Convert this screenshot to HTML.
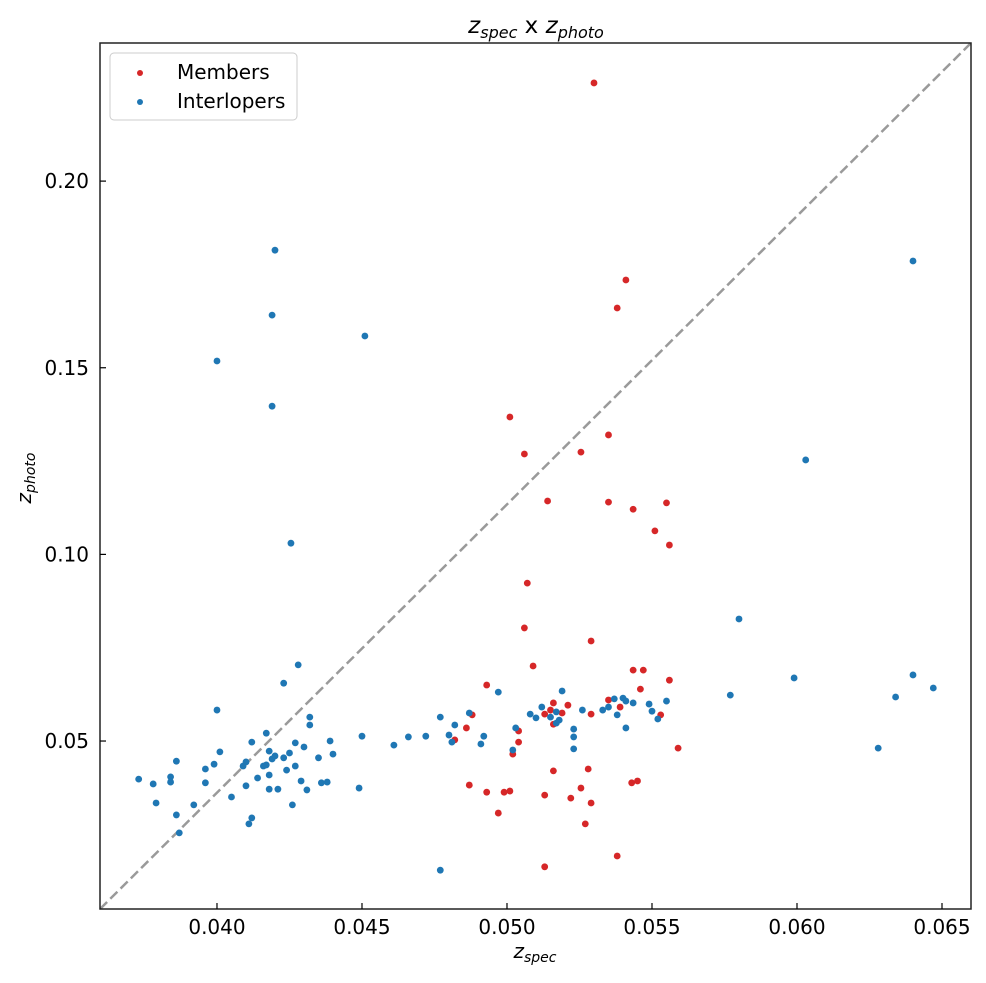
<!DOCTYPE html>
<html><head><meta charset="utf-8"><style>
body{margin:0;background:#fff;}
svg{display:block;font-family:"DejaVu Sans","Liberation Sans",sans-serif;}
</style></head><body>
<svg id="chart" width="986" height="983" viewBox="0 0 986 983" xmlns="http://www.w3.org/2000/svg">
<rect x="0" y="0" width="986" height="983" fill="#fff"/>
<g id="marks"></g>
<g id="axes"></g>
<text x="536" y="33" text-anchor="middle" font-size="23"><tspan font-style="italic">z</tspan><tspan font-style="italic" font-size="16" dy="5">spec</tspan><tspan dy="-5"> x </tspan><tspan font-style="italic">z</tspan><tspan font-style="italic" font-size="16" dy="5">photo</tspan></text>
<text x="535" y="958" text-anchor="middle" font-size="20"><tspan font-style="italic">z</tspan><tspan font-style="italic" font-size="14" dy="4">spec</tspan></text>
<text transform="translate(31,478) rotate(-90)" text-anchor="middle" font-size="20"><tspan font-style="italic">z</tspan><tspan font-style="italic" font-size="14" dy="4">photo</tspan></text>
<g>
<rect x="110" y="53" width="187" height="67" rx="4" fill="#fff" fill-opacity="0.8" stroke="#ccc" stroke-width="1"/>
<circle cx="140" cy="73" r="3" fill="#d62728"/>
<text x="177" y="79" font-size="20">Members</text>
<circle cx="140" cy="102" r="3" fill="#1f77b4"/>
<text x="177" y="108" font-size="20">Interlopers</text>
</g>
</svg>
<script>
const xTicks=[0.040,0.045,0.050,0.055,0.060,0.065];
const xTickLabels=["0.040","0.045","0.050","0.055","0.060","0.065"];
const yTicks=[0.05,0.10,0.15,0.20];
const yTickLabels=["0.05","0.10","0.15","0.20"];
const memberX=[0.0530,0.0541,0.0538,0.0501,0.0535,0.0506,0.05255,0.0514,0.0535,0.05435,0.0555,0.0551,0.0556,0.0507,0.0506,0.0509,0.0529,0.05435,0.0547,0.0546,0.0556,0.0493,0.0535,0.0539,0.0516,0.0521,0.0513,0.0515,0.0519,0.0516,0.0529,0.0553,0.0488,0.0486,0.0482,0.0504,0.0504,0.0502,0.0559,0.0487,0.0493,0.0499,0.0501,0.0497,0.0513,0.0516,0.0522,0.05255,0.0528,0.0529,0.0543,0.0545,0.0527,0.0513,0.0538];
const memberY=[0.2263,0.1735,0.1660,0.1368,0.1320,0.1269,0.1274,0.1143,0.1140,0.1121,0.1138,0.1063,0.1025,0.0923,0.0803,0.0701,0.0768,0.0690,0.0690,0.0639,0.0663,0.0650,0.0610,0.0591,0.0602,0.0596,0.0572,0.0583,0.0575,0.0545,0.0572,0.0570,0.0570,0.0535,0.0503,0.0527,0.0497,0.0465,0.0481,0.0382,0.0363,0.0363,0.0366,0.0307,0.0355,0.0420,0.0347,0.0374,0.0425,0.0334,0.0388,0.0393,0.0278,0.0163,0.0192];
const interX=[0.0420,0.0419,0.0400,0.0451,0.0419,0.04255,0.0640,0.0603,0.0580,0.0599,0.0640,0.0647,0.0634,0.0577,0.0628,0.0477,
0.0428,0.0423,0.0400,0.0432,0.0432,0.0417,0.0412,0.0401,0.0386,0.0427,0.0439,0.0450,0.0430,0.0425,0.0418,0.0420,0.0423,0.0419,0.0435,0.0440,0.0399,0.0396,0.0409,0.0410,0.0416,0.0417,0.0427,0.0424,0.0414,0.0418,0.0373,0.0378,0.0384,0.0384,0.0396,0.0410,0.0418,0.0421,0.0429,0.0431,0.0436,0.0438,0.0449,0.0379,0.0392,0.0405,0.0426,0.0386,0.0412,0.0411,0.0387,
0.0461,0.0466,0.0472,
0.0497,0.0519,0.0477,0.0487,0.0482,0.0480,0.0481,0.0492,0.0491,0.0503,0.0502,0.0508,0.0510,0.0512,0.0515,0.0517,0.0518,0.0517,0.0523,0.0523,0.0523,0.0526,0.0533,0.0535,0.0537,0.0540,0.0541,0.05435,0.0538,0.0541,0.0549,0.0550,0.0552,0.0555];
const interY=[0.1815,0.1641,0.1518,0.1585,0.1397,0.1030,0.1786,0.1253,0.0827,0.0669,0.0677,0.0642,0.0618,0.0623,0.0481,0.0154,
0.0704,0.0655,0.0583,0.0564,0.0543,0.0521,0.0497,0.0471,0.0446,0.0495,0.0500,0.0513,0.0484,0.0468,0.0473,0.0460,0.0455,0.0452,0.0455,0.0465,0.0438,0.0425,0.0433,0.0444,0.0433,0.0436,0.0433,0.0422,0.0401,0.0409,0.0398,0.0385,0.0404,0.0390,0.0388,0.0380,0.0371,0.0371,0.0393,0.0369,0.0388,0.0390,0.0374,0.0334,0.0329,0.0350,0.0329,0.0302,0.0294,0.0278,0.0254,
0.0489,0.0511,0.0513,
0.0631,0.0634,0.0564,0.0575,0.0543,0.0516,0.0497,0.0513,0.0492,0.0535,0.0476,0.0572,0.0562,0.0591,0.0564,0.0578,0.0556,0.0548,0.0532,0.0511,0.0479,0.0583,0.0583,0.0591,0.0613,0.0615,0.0607,0.0602,0.0570,0.0535,0.0599,0.0580,0.0559,0.0607];

const X0=100,X1=971,Y0=909,Y1=43;
const xMin=0.035966,xMax=0.066,yMin=0.005,yMax=0.237;
function sx(v){return X0+(v-xMin)/(xMax-xMin)*(X1-X0);}
function sy(v){return Y0-(v-yMin)/(yMax-yMin)*(Y0-Y1);}
const NS="http://www.w3.org/2000/svg";
const marks=document.getElementById('marks');
const axes=document.getElementById('axes');
function mk(tag,attrs,parent){const e=document.createElementNS(NS,tag);for(const k in attrs)e.setAttribute(k,attrs[k]);parent.appendChild(e);return e;}

const diag=mk('line',{x1:X0,y1:Y0,x2:X1,y2:Y1,stroke:'#9a9a9a','stroke-width':2.5,'stroke-dasharray':'10,4.5'},marks);



for(let i=0;i<memberX.length;i++){
  const c=mk('circle',{cx:sx(memberX[i]),cy:sy(memberY[i]),r:3.4,fill:'#d62728'},marks);
  
  
}
for(let i=0;i<interX.length;i++){
  const c=mk('circle',{cx:sx(interX[i]),cy:sy(interY[i]),r:3.4,fill:'#1f77b4'},marks);
  
  
}

const frame=mk('rect',{x:X0,y:Y1,width:X1-X0,height:Y0-Y1,fill:'none',stroke:'#222','stroke-width':1.5},axes);



for(let i=0;i<xTicks.length;i++){
  const x=sx(xTicks[i]);
  const t=mk('line',{x1:x,y1:Y0,x2:x,y2:Y0-6,stroke:'#000','stroke-width':1.2},axes);
  
  
  const l=mk('text',{x:x,y:Y0+25,'text-anchor':'middle','font-size':20},axes);
  l.textContent=xTickLabels[i];
  
  
}
for(let i=0;i<yTicks.length;i++){
  const y=sy(yTicks[i]);
  const t=mk('line',{x1:X0,y1:y,x2:X0+6,y2:y,stroke:'#000','stroke-width':1.2},axes);
  
  
  const l=mk('text',{x:X0-11,y:y+7,'text-anchor':'end','font-size':20},axes);
  l.textContent=yTickLabels[i];
  
  
}
</script>
</body></html>
